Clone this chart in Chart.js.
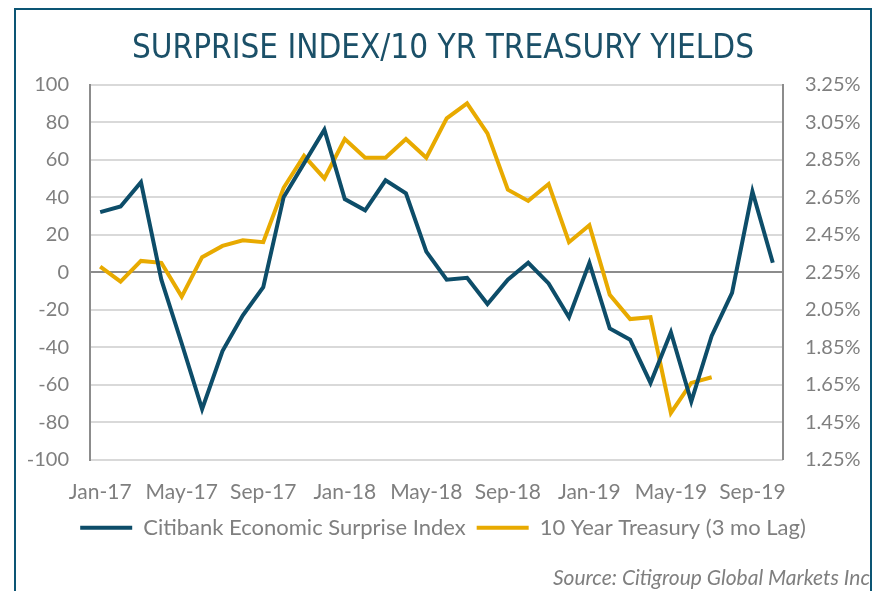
<!DOCTYPE html>
<html>
<head>
<meta charset="utf-8">
<script src="https://cdn.jsdelivr.net/npm/chart.js@4"></script>
<style>
  html, body { margin: 0; padding: 0; background: #fff; overflow: hidden; }
  #frame {
    position: absolute; left: 14px; top: 8px; width: 854px; height: 600px;
    border: 2px solid #0c5574; border-bottom: none;
  }
  #wrap { position: absolute; left: 0; top: 0; width: 854px; height: 581px; }
</style>
</head>
<body>
<div id="frame"><div id="wrap"><canvas id="chart"></canvas></div></div>
<script>
const months = [
  "Jan-17", "Feb-17", "Mar-17", "Apr-17", "May-17", "Jun-17", "Jul-17", "Aug-17", "Sep-17", "Oct-17", "Nov-17", "Dec-17",
  "Jan-18", "Feb-18", "Mar-18", "Apr-18", "May-18", "Jun-18", "Jul-18", "Aug-18", "Sep-18", "Oct-18", "Nov-18", "Dec-18",
  "Jan-19", "Feb-19", "Mar-19", "Apr-19", "May-19", "Jun-19", "Jul-19", "Aug-19", "Sep-19", "Oct-19"
];

const surpriseIndex = [
  32, 35, 48, -4, -38, -73, -42, -23, -8, 40, 58, 76,
  39, 33, 49, 42, 11, -4, -3, -17, -4, 5, -6, -24,
  5, -30, -36, -59, -32, -69, -34, -11, 43, 5
];

// 10 year treasury yield (%), lagged 3 months
const treasury10y = [
  2.28, 2.20, 2.31, 2.30, 2.12, 2.33, 2.39, 2.42, 2.41, 2.70, 2.87, 2.75,
  2.96, 2.86, 2.86, 2.96, 2.86, 3.07, 3.15, 2.99, 2.69, 2.63, 2.72, 2.41,
  2.50, 2.13, 2.00, 2.01, 1.50, 1.66, 1.69, null, null, null
];

const blue = "#0d4d69";
const gold = "#e8aa00";
const gray = "#7f7f7f";
const fam = "Lato, 'Open Sans', sans-serif";

new Chart(document.getElementById("chart"), {
  type: "line",
  data: {
    labels: months,
    datasets: [
      {
        label: "Citibank Economic Surprise Index",
        data: surpriseIndex,
        borderColor: blue,
        backgroundColor: blue,
        borderWidth: 4,
        pointRadius: 0,
        yAxisID: "y",
      },
      {
        label: "10 Year Treasury (3 mo Lag)",
        data: treasury10y,
        borderColor: gold,
        backgroundColor: gold,
        borderWidth: 4,
        pointRadius: 0,
        yAxisID: "y2",
      },
    ],
  },
  options: {
    responsive: true,
    maintainAspectRatio: false,
    animation: false,
    layout: { padding: 0 },
    scales: {
      x: {
        offset: true,
        afterFit: (s) => { s.height = 46; },
        grid: { display: false },
        border: { display: false },
        ticks: {
          color: gray,
          font: { family: fam, size: 21 },
          autoSkip: false,
          maxRotation: 0,
          padding: 12,
          callback: (v, i) => (i % 4 === 0 ? months[i] : ""),
        },
      },
      y: {
        position: "left",
        min: -100,
        max: 100,
        afterFit: (s) => { s.width = 74; },
        ticks: { stepSize: 20, color: gray, font: { family: fam, size: 20 }, padding: 21 },
        grid: {
          color: (c) => (c.tick && c.tick.value === 0 ? "#8c8c8c" : "#d9d9d9"),
          lineWidth: 2,
          drawTicks: false,
        },
        border: { display: true, color: "#8c8c8c", width: 2 },
      },
      y2: {
        position: "right",
        min: 1.25,
        max: 3.25,
        afterFit: (s) => { s.width = 87; },
        ticks: {
          stepSize: 0.2,
          color: gray,
          font: { family: fam, size: 20 },
          padding: 22,
          callback: (v) => v.toFixed(2) + "%",
        },
        grid: { drawOnChartArea: false, drawTicks: false },
        border: { display: true, color: "#8c8c8c", width: 2 },
      },
    },
    plugins: {
      title: {
        display: true,
        text: "SURPRISE INDEX/10 YR TREASURY YIELDS",
        color: "#1b5068",
        font: { family: "'Liberation Sans Narrow', 'DejaVu Sans Condensed', sans-serif", size: 33, weight: "normal" },
        padding: { top: 20, bottom: 15 },
      },
      subtitle: {
        display: true,
        position: "bottom",
        align: "end",
        text: "Source: Citigroup Global Markets Inc",
        color: gray,
        font: { family: fam, size: 21, style: "italic" },
        padding: { top: 17, bottom: 0 },
      },
      legend: {
        display: true,
        position: "bottom",
        labels: {
          color: gray,
          font: { family: fam, size: 22 },
          usePointStyle: true,
          pointStyle: "line",
          pointStyleWidth: 52,
          padding: 11,
        },
      },
      tooltip: { enabled: false },
    },
  },
});
</script>
</body>
</html>
